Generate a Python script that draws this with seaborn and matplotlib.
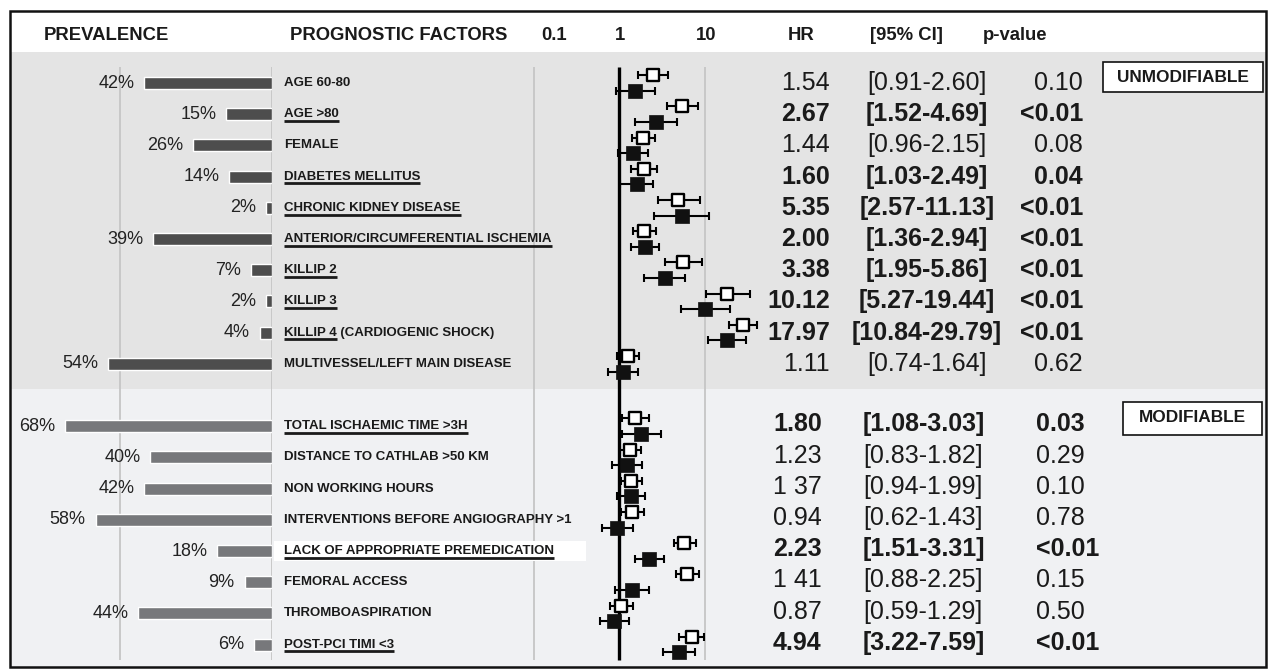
import numpy as np
import pandas as pd
import matplotlib
matplotlib.use("Agg")
import matplotlib.pyplot as plt
import seaborn as sns
from matplotlib.patches import Rectangle

sns.set_theme(style="white")
plt.rcParams['font.family'] = ['Liberation Sans', 'DejaVu Sans']

# ---------------- data ----------------
labels_unmod = ["AGE 60-80", "AGE >80", "FEMALE", "DIABETES MELLITUS",
                "CHRONIC KIDNEY DISEASE", "ANTERIOR/CIRCUMFERENTIAL ISCHEMIA",
                "KILLIP 2", "KILLIP 3", "KILLIP 4 (CARDIOGENIC SHOCK)",
                "MULTIVESSEL/LEFT MAIN DISEASE"]
underline_unmod = [None, "AGE >80", None, "DIABETES MELLITUS", "CHRONIC KIDNEY DISEASE",
                   "ANTERIOR/CIRCUMFERENTIAL ISCHEMIA", "KILLIP 2", "KILLIP 3", "KILLIP 4", None]
prev_unmod = [42, 15, 26, 14, 2, 39, 7, 2, 4, 54]
hr_unmod = [1.54, 2.67, 1.44, 1.60, 5.35, 2.00, 3.38, 10.12, 17.97, 1.11]
lo_unmod = [0.91, 1.52, 0.96, 1.03, 2.57, 1.36, 1.95, 5.27, 10.84, 0.74]
hi_unmod = [2.60, 4.69, 2.15, 2.49, 11.13, 2.94, 5.86, 19.44, 29.79, 1.64]
hr_txt_unmod = ["1.54", "2.67", "1.44", "1.60", "5.35", "2.00", "3.38", "10.12", "17.97", "1.11"]
ci_txt_unmod = ["[0.91-2.60]", "[1.52-4.69]", "[0.96-2.15]", "[1.03-2.49]", "[2.57-11.13]",
                "[1.36-2.94]", "[1.95-5.86]", "[5.27-19.44]", "[10.84-29.79]", "[0.74-1.64]"]
p_unmod = ["0.10", "<0.01", "0.08", "0.04", "<0.01", "<0.01", "<0.01", "<0.01", "<0.01", "0.62"]
sig_unmod = [False, True, False, True, True, True, True, True, True, False]
# open squares (second estimate)
hr2_unmod = [2.45, 5.35, 1.91, 1.94, 4.88, 1.96, 5.58, 18.2, 27.5, 1.25]
lo2_unmod = [1.65, 3.57, 1.41, 1.37, 2.81, 1.44, 3.41, 10.2, 19.1, 0.95]
hi2_unmod = [3.70, 8.22, 2.61, 2.78, 8.74, 2.70, 9.30, 33.5, 40.7, 1.71]

labels_mod = ["TOTAL ISCHAEMIC TIME >3H", "DISTANCE TO CATHLAB >50 KM", "NON WORKING HOURS",
              "INTERVENTIONS BEFORE ANGIOGRAPHY >1", "LACK OF APPROPRIATE PREMEDICATION",
              "FEMORAL ACCESS", "THROMBOASPIRATION", "POST-PCI TIMI <3"]
underline_mod = ["TOTAL ISCHAEMIC TIME >3H", None, None, None,
                 "LACK OF APPROPRIATE PREMEDICATION", None, None, "POST-PCI TIMI <3"]
prev_mod = [68, 40, 42, 58, 18, 9, 44, 6]
hr_mod = [1.80, 1.23, 1.37, 0.94, 2.23, 1.41, 0.87, 4.94]
lo_mod = [1.08, 0.83, 0.94, 0.62, 1.51, 0.88, 0.59, 3.22]
hi_mod = [3.03, 1.82, 1.99, 1.43, 3.31, 2.25, 1.29, 7.59]
hr_txt_mod = ["1.80", "1.23", "1 37", "0.94", "2.23", "1 41", "0.87", "4.94"]
ci_txt_mod = ["[1.08-3.03]", "[0.83-1.82]", "[0.94-1.99]", "[0.62-1.43]", "[1.51-3.31]",
              "[0.88-2.25]", "[0.59-1.29]", "[3.22-7.59]"]
p_mod = ["0.03", "0.29", "0.10", "0.78", "<0.01", "0.15", "0.50", "<0.01"]
sig_mod = [True, False, False, False, True, False, False, True]
hr2_mod = [1.52, 1.33, 1.37, 1.42, 5.73, 6.21, 1.05, 7.0]
lo2_mod = [1.07, 1.03, 1.05, 1.05, 4.35, 4.59, 0.78, 4.97]
hi2_mod = [2.22, 1.79, 1.86, 1.94, 7.85, 8.51, 1.46, 9.8]

header_texts = ["PREVALENCE", "PROGNOSTIC FACTORS", "0.1", "1", "10", "HR", "[95% CI]", "p-value"]
section_names = ["UNMODIFIABLE", "MODIFIABLE"]

# ---------------- layout helpers ----------------
W, H = 1271, 670
ROW0, DY = 83.0, 31.2


def row_of(px):
    return (px - ROW0) / DY


YLIM = (row_of(H), row_of(0))
pos_unmod = np.arange(len(labels_unmod))
pos_mod = np.arange(len(labels_mod)) + len(labels_unmod) + 1

TXT = '#1a1a1a'
TBL_FS = 18
fig = plt.figure(figsize=(W / 100, H / 100), dpi=100, facecolor='white')

# background
ax_bg = fig.add_axes([0, 0, 1, 1], zorder=0)
ax_bg.set_xlim(0, W); ax_bg.set_ylim(*YLIM); ax_bg.axis('off')
ax_bg.add_patch(Rectangle((10, row_of(52)), 1256, row_of(389) - row_of(52), fc='#e4e4e4', ec='none'))
ax_bg.add_patch(Rectangle((10, row_of(389)), 1256, row_of(667) - row_of(389), fc='#f0f1f3', ec='none'))

# prevalence bars
bar_l, bar_r, PXPCT = 10, 272, 3.04
ax_bar = fig.add_axes([bar_l / W, 0, (bar_r - bar_l) / W, 1], zorder=1)
ax_bar.patch.set_alpha(0)
ax_bar.vlines([50, 0], row_of(67), row_of(660), color='#c8c8c8', lw=1.4, zorder=0)
sns.barplot(x=prev_unmod, y=pos_unmod, orient='h', native_scale=True, color='#4d4d4d',
            saturation=1, width=0.38, ax=ax_bar, zorder=2)
sns.barplot(x=prev_mod, y=pos_mod, orient='h', native_scale=True, color='#77787b',
            saturation=1, width=0.38, ax=ax_bar, zorder=2)
for p, y in list(zip(prev_unmod, pos_unmod)) + list(zip(prev_mod, pos_mod)):
    ax_bar.text(p + 10 / PXPCT, y, f"{p}%", ha='right', va='center', fontsize=13,
                color='#222222', clip_on=False)
ax_bar.set_xlim((bar_r - bar_l) / PXPCT, 0)
ax_bar.set_ylim(*YLIM)
ax_bar.axis('off')

# forest plot
f_l, f_r, ONE_PX, DEC = 440, 790, 619.3, 85.7
ax_for = fig.add_axes([f_l / W, 0, (f_r - f_l) / W, 1], zorder=2)
ax_for.patch.set_alpha(0)
ax_for.set_xscale('log')
ax_for.vlines([0.1, 10], row_of(67), row_of(660), color='#c8c8c8', lw=1.4, zorder=0)
ax_for.vlines([1], row_of(67), row_of(660), color='black', lw=2.4, zorder=1)
OFF = 0.25
for hr, lo, hi, pos in [(hr2_unmod, lo2_unmod, hi2_unmod, pos_unmod - OFF),
                        (hr2_mod, lo2_mod, hi2_mod, pos_mod - OFF)]:
    hr = np.array(hr); lo = np.array(lo); hi = np.array(hi)
    ax_for.errorbar(hr, pos, xerr=[hr - lo, hi - hr], fmt='none', ecolor='black',
                    elinewidth=1.5, capsize=3, capthick=1.5, zorder=2)
    sns.scatterplot(x=hr, y=pos, marker='s', s=66, color='white', edgecolor='black',
                    linewidth=1.7, ax=ax_for, zorder=3, legend=False)
for hr, lo, hi, pos in [(hr_unmod, lo_unmod, hi_unmod, pos_unmod + OFF),
                        (hr_mod, lo_mod, hi_mod, pos_mod + OFF)]:
    hr = np.array(hr); lo = np.array(lo); hi = np.array(hi)
    ax_for.errorbar(hr, pos, xerr=[hr - lo, hi - hr], fmt='none', ecolor='black',
                    elinewidth=1.5, capsize=3, capthick=1.5, zorder=2)
    sns.scatterplot(x=hr, y=pos, marker='s', s=88, color='#111111', edgecolor='#111111',
                    linewidth=0.5, ax=ax_for, zorder=3, legend=False)
ax_for.set_xlim(10 ** ((f_l - ONE_PX) / DEC), 10 ** ((f_r - ONE_PX) / DEC))
ax_for.set_ylim(*YLIM)
ax_for.axis('off')

# text layer
ax_txt = fig.add_axes([0, 0, 1, 1], zorder=3)
ax_txt.patch.set_alpha(0)
ax_txt.set_xlim(0, W); ax_txt.set_ylim(*YLIM); ax_txt.axis('off')

# white highlight behind "LACK OF APPROPRIATE PREMEDICATION"
lack_pos = pos_mod[4]
ax_txt.add_patch(Rectangle((274, lack_pos - 0.33), 312, 0.64, fc='white', ec='none', zorder=0))

lab_kw = dict(fontsize=9.5, fontweight='bold', va='center', ha='left', color=TXT)
LAB_X = 284
for labs, pos in [(labels_unmod, pos_unmod), (labels_mod, pos_mod)]:
    for lab, y in zip(labs, pos):
        ax_txt.text(LAB_X, y, lab, zorder=2, **lab_kw)

# table text
for i, y in enumerate(pos_unmod):
    fw = 'bold' if sig_unmod[i] else 'normal'
    ax_txt.text(830, y, hr_txt_unmod[i], ha='right', va='center', fontsize=TBL_FS, fontweight=fw, color=TXT)
    ax_txt.text(927, y, ci_txt_unmod[i], ha='center', va='center', fontsize=TBL_FS, fontweight=fw, color=TXT)
    ax_txt.text(1083, y, p_unmod[i], ha='right', va='center', fontsize=TBL_FS, fontweight=fw, color=TXT)
for i, y in enumerate(pos_mod):
    fw = 'bold' if sig_mod[i] else 'normal'
    ax_txt.text(773, y - 0.06, hr_txt_mod[i], ha='left', va='center', fontsize=TBL_FS, fontweight=fw, color=TXT)
    ax_txt.text(863, y - 0.06, ci_txt_mod[i], ha='left', va='center', fontsize=TBL_FS, fontweight=fw, color=TXT)
    ax_txt.text(1036, y - 0.06, p_mod[i], ha='left', va='center', fontsize=TBL_FS, fontweight=fw, color=TXT)

# header
hy = row_of(35)
hx = [106, 290, 554, 620, 706, 801, 906, 1015]
hha = ['center', 'left', 'center', 'center', 'center', 'center', 'center', 'center']
for t, x, ha in zip(header_texts, hx, hha):
    ax_txt.text(x, hy, t, ha=ha, va='center', fontsize=13.3, fontweight='bold', color=TXT)

# section boxes
ax_txt.add_patch(Rectangle((1103, row_of(62)), 160, row_of(92) - row_of(62), fc='white', ec='#111', lw=1.2))
ax_txt.text(1183, row_of(77), section_names[0], ha='center', va='center', fontsize=12.4,
            fontweight='bold', color=TXT)
ax_txt.add_patch(Rectangle((1123, row_of(402)), 139, row_of(435) - row_of(402), fc='white', ec='#111', lw=1.2))
ax_txt.text(1192.5, row_of(418), section_names[1], ha='center', va='center', fontsize=12.4,
            fontweight='bold', color=TXT)

# outer border
ax_txt.add_patch(Rectangle((10, row_of(11)), 1256, row_of(667) - row_of(11), fill=False,
                           ec='#111', lw=1.8))

# underlines for significant factors
fig.canvas.draw()
renderer = fig.canvas.get_renderer()
inv = ax_txt.transData.inverted()
for unds, pos in [(underline_unmod, pos_unmod), (underline_mod, pos_mod)]:
    for u, y in zip(unds, pos):
        if u is None:
            continue
        tmp = ax_txt.text(LAB_X, y, u, **lab_kw)
        bb = tmp.get_window_extent(renderer)
        tmp.remove()
        x0 = inv.transform((bb.x0, 0))[0]
        x1 = inv.transform((bb.x1, 0))[0]
        ax_txt.plot([x0, x1], [y + 0.215, y + 0.215], color=TXT, lw=2.0,
                    solid_capstyle='butt', zorder=2)

fig.savefig('out.png', dpi=100, facecolor='white')
